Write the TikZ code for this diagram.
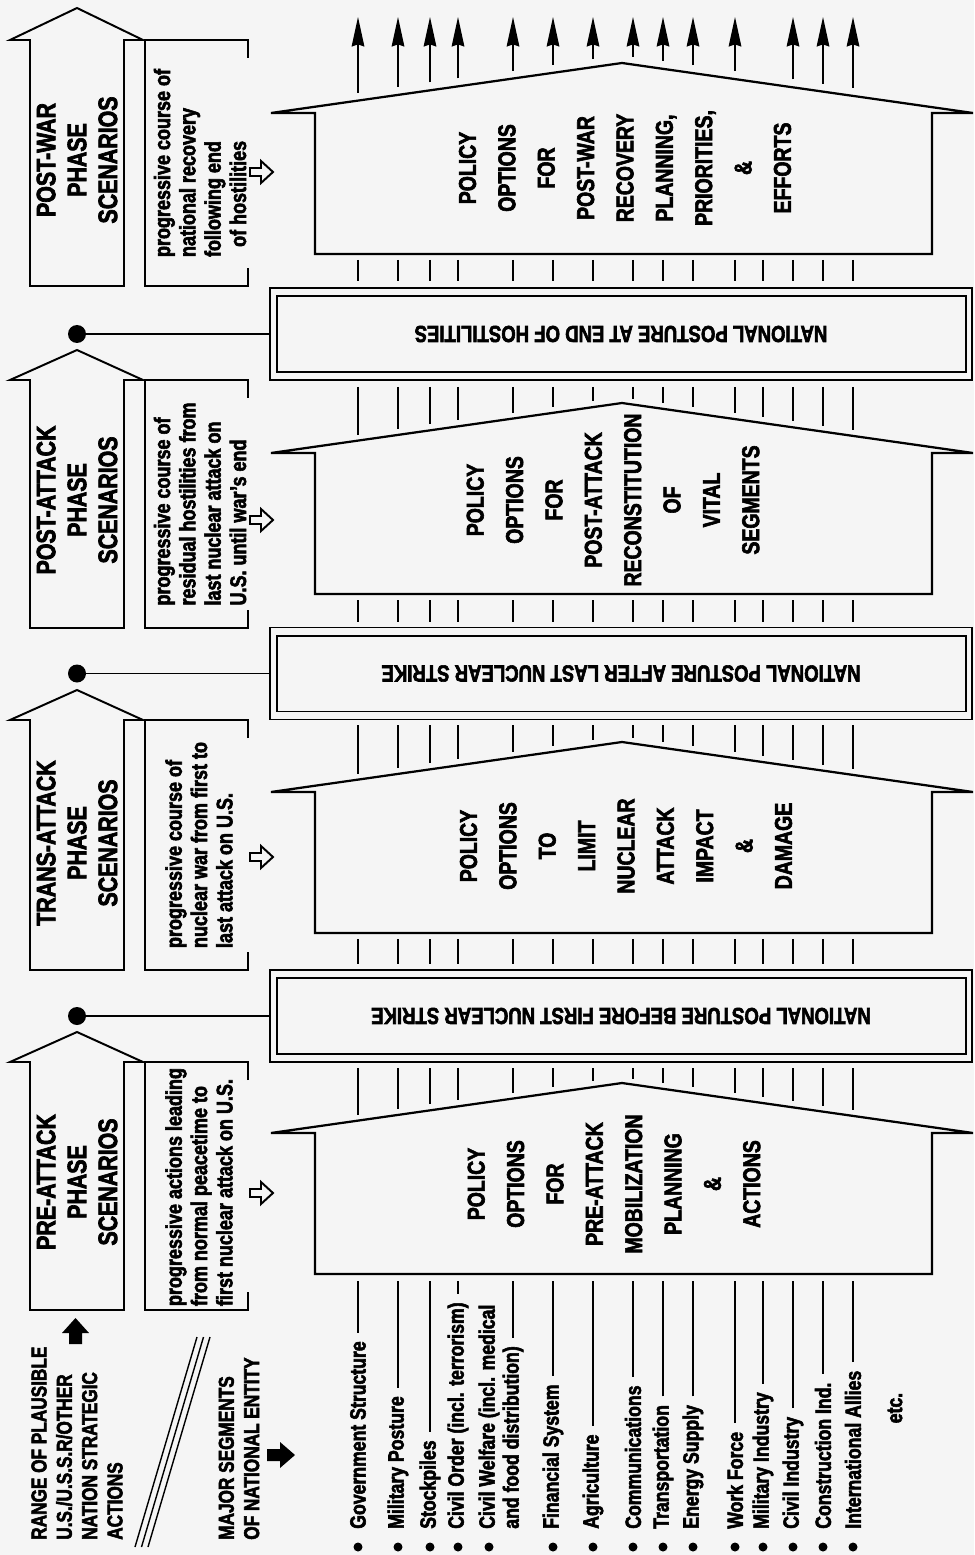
\documentclass[tikz,border=0pt]{standalone}
\usepackage{fontspec}
\setmainfont{Liberation Sans}[FakeStretch=0.8, FakeBold=2.5]
\usepackage{tikz}
\usetikzlibrary{arrows.meta, positioning, calc}

\newlength{\px}
\setlength{\px}{0.25mm}
\newcommand{\segxs}{358,398,430,458,513,553,593,633,663,693,735,763,793,823,853}

% policy box drawn as a house, #1 = eave line
\newcommand{\policyhouse}[1]{%
  \draw[house] (315,#1+141) -- (315,#1) -- (271,#1) -- (622,#1-50)
    -- (973,#1) -- (932,#1) -- (932,#1+141) -- cycle;}
% segment ticks from #1 down to the roof with eave #2
\newcommand{\rooftick}[2]{%
  \foreach \x in \segxs {
    \pgfmathsetmacro{\ry}{#2-50*(1-abs(\x-622)/351)}
    \draw[tick] (\x,#1) -- (\x,\ry-6);
  }}
% phase arrow: tip, head base, bottom
\newcommand{\phasearrow}[3]{%
  \draw[box] (30,#3) -- (30,#2) -- (10,#2) -- (77,#1) -- (143,#2)
    -- (124,#2) -- (124,#3) -- cycle;}
\newcommand{\descbox}[2]{%
  \draw[box] (248,#1+18) -- (248,#1) -- (145,#1) -- (145,#2) -- (248,#2) -- (248,#2-18);}
\newcommand{\hollowarrow}[1]{%
  \draw[box] (250,#1-4) -- (261,#1-4) -- (261,#1-11) -- (273,#1)
    -- (261,#1+11) -- (261,#1+4) -- (250,#1+4) -- cycle;}

\begin{document}
\begin{tikzpicture}[x=0.25mm, y=-0.25mm,
  box/.style={line width=1.4pt},
  house/.style={line width=1.6pt},
  tick/.style={line width=1pt},
  dot/.style={circle, fill, inner sep=0pt, minimum size=18\px},
  posture/.style={draw, line width=1.4pt, minimum width=702\px, minimum height=92\px, inner sep=0pt},
  posttext/.style={rotate=180, inner sep=0pt, font=\fontsize{16.5}{19}\selectfont\bfseries},
  phasetext/.style={rotate=90, align=center, inner sep=0pt, font=\fontsize{19}{22}\selectfont\bfseries},
  desctext/.style={rotate=90, align=left, inner sep=0pt, font=\fontsize{16}{18}\selectfont\bfseries},
  policytext/.style={rotate=90, align=center, inner sep=0pt, font=\fontsize{17.3}{28}\selectfont\bfseries},
  seglabel/.style={rotate=90, anchor=west, inner sep=0pt, font=\fontsize{15.7}{18}\selectfont\bfseries},
  titletext/.style={rotate=90, anchor=west, align=left, inner sep=0pt, font=\fontsize{15.3}{18}\selectfont\bfseries},
  >={Stealth[length=21pt, width=9pt, inset=1.5pt]}]
  \fill[black!4, use as bounding box] (0,0) rectangle (974,1555);

  % phase arrows and scenario boxes
  \phasearrow{1032}{1062}{1310}
  \node[phasetext] (pre) at (77,1182) {PRE-ATTACK\\PHASE\\SCENARIOS};
  \descbox{1062}{1310}
  \node[desctext] (predesc) at (199,1187) {progressive actions leading\\from normal peacetime to\\first nuclear attack on U.S.};
  \hollowarrow{1193}

  \phasearrow{690}{720}{970}
  \node[phasetext] (trans) at (77,843) {TRANS-ATTACK\\PHASE\\SCENARIOS};
  \descbox{720}{970}
  \node[desctext] (transdesc) at (199,845) {progressive course of\\nuclear war from first to\\last attack on U.S.};
  \hollowarrow{857}

  \phasearrow{350}{380}{628}
  \node[phasetext] (postatt) at (77,500) {POST-ATTACK\\PHASE\\SCENARIOS};
  \descbox{380}{628}
  \node[desctext] (postattdesc) at (200,504) {progressive course of\\residual hostilities from\\last nuclear attack on\\U.S. until war's end};
  \hollowarrow{520}

  \phasearrow{8}{40}{286}
  \node[phasetext] (postwar) at (77,160) {POST-WAR\\PHASE\\SCENARIOS};
  \descbox{40}{286}
  \node[desctext] (postwardesc) at (200,163) {progressive course of\\national recovery\\following end\\\hspace{0.45em}of hostilities};
  \hollowarrow{172}

  % national posture bars
  \foreach \y/\txt [count=\i] in {1016/NATIONAL POSTURE BEFORE FIRST NUCLEAR STRIKE,
      673.5/NATIONAL POSTURE AFTER LAST NUCLEAR STRIKE, 334/NATIONAL POSTURE AT END OF HOSTILITIES} {
    \node[posture] (post\i) at (621,\y) {};
    \draw[box] ([shift={(8,9)}]post\i.north west) rectangle ([shift={(-7,-9)}]post\i.south east);
    \node[posttext] (post\i txt) at (post\i) {\txt};
    \node[dot] (dot\i) at (77,\y) {};
    \draw[box] (dot\i) -- (post\i);
  }

  % policy houses
  \policyhouse{1133}
  \node[policytext] (prepol) at (614,1184) {POLICY\\OPTIONS\\FOR\\PRE-ATTACK\\MOBILIZATION\\PLANNING\\\&\\ACTIONS};
  \policyhouse{792}
  \node[policytext] (transpol) at (626,846) {POLICY\\OPTIONS\\TO\\LIMIT\\NUCLEAR\\ATTACK\\IMPACT\\\&\\DAMAGE};
  \policyhouse{453}
  \node[policytext] (postattpol) at (613,500) {POLICY\\OPTIONS\\FOR\\POST-ATTACK\\RECONSTITUTION\\OF\\VITAL\\SEGMENTS};
  \policyhouse{113}
  \node[policytext] (postwarpol) at (625,168) {POLICY\\OPTIONS\\FOR\\POST-WAR\\RECOVERY\\PLANNING,\\PRIORITIES,\\\&\\EFFORTS};

  % segment lines through the phases
  \rooftick{1068}{1133}
  \rooftick{725}{792}
  \rooftick{387}{453}
  \foreach \x in \segxs {
    \draw[tick] (\x,939) -- (\x,964);
    \draw[tick] (\x,600) -- (\x,622);
    \draw[tick] (\x,260) -- (\x,281);
  }
  \foreach \x in {358,398,430,458,513,553,593,633,663,693,735,793,823,853} {
    \pgfmathsetmacro{\ry}{113-50*(1-abs(\x-622)/351)}
    \draw[tick, ->] (\x,\ry-8) -- (\x,17);
  }

  % major segments
  \coordinate (segtop) at (0,1281);
  \foreach \x/\txt [count=\i] in {358/Government Structure, 398/Military Posture, 430/Stockpiles,
      458/Civil Order (incl. terrorism), 553/Financial System, 593/Agriculture, 633/Communications,
      663/Transportation, 693/Energy Supply, 735/Work Force, 763/Military Industry,
      793/Civil Industry, 823/Construction Ind., 853/International Allies} {
    \fill (\x,1547) circle[radius=4.5\px];
    \node[seglabel] (seg\i) at (\x,1529) {\txt};
    \draw[tick] ([yshift=6pt]seg\i.east) -- (seg\i.east |- segtop);
  }
  \fill (489,1547) circle[radius=4.5\px];
  \node[seglabel] (welfare) at (489,1529) {Civil Welfare (incl. medical};
  \node[seglabel] (welfare2) at (513,1529) {and food distribution)};
  \draw[tick] ([yshift=6pt]welfare2.east) -- (welfare2.east |- segtop);
  \node[seglabel, anchor=center] (etc) at (895,1408) {etc.};

  % legend
  \node[titletext] (range) at (77,1540) {RANGE OF PLAUSIBLE\\U.S./U.S.S.R/OTHER\\NATION STRATEGIC\\ACTIONS};
  \fill (69,1344) -- (69,1333) -- (62,1333) -- (75.5,1318) -- (89,1333) -- (82,1333) -- (82,1344) -- cycle;
  \foreach \d in {0,6.5,13}
    \draw[tick] (135+\d,1547) -- (197+\d,1337);
  \node[titletext] (major) at (239,1540) {MAJOR SEGMENTS\\OF NATIONAL ENTITY};
  \fill (267,1449) -- (280,1449) -- (280,1442) -- (295,1455) -- (280,1468) -- (280,1461) -- (267,1461) -- cycle;
\end{tikzpicture}
\end{document}
